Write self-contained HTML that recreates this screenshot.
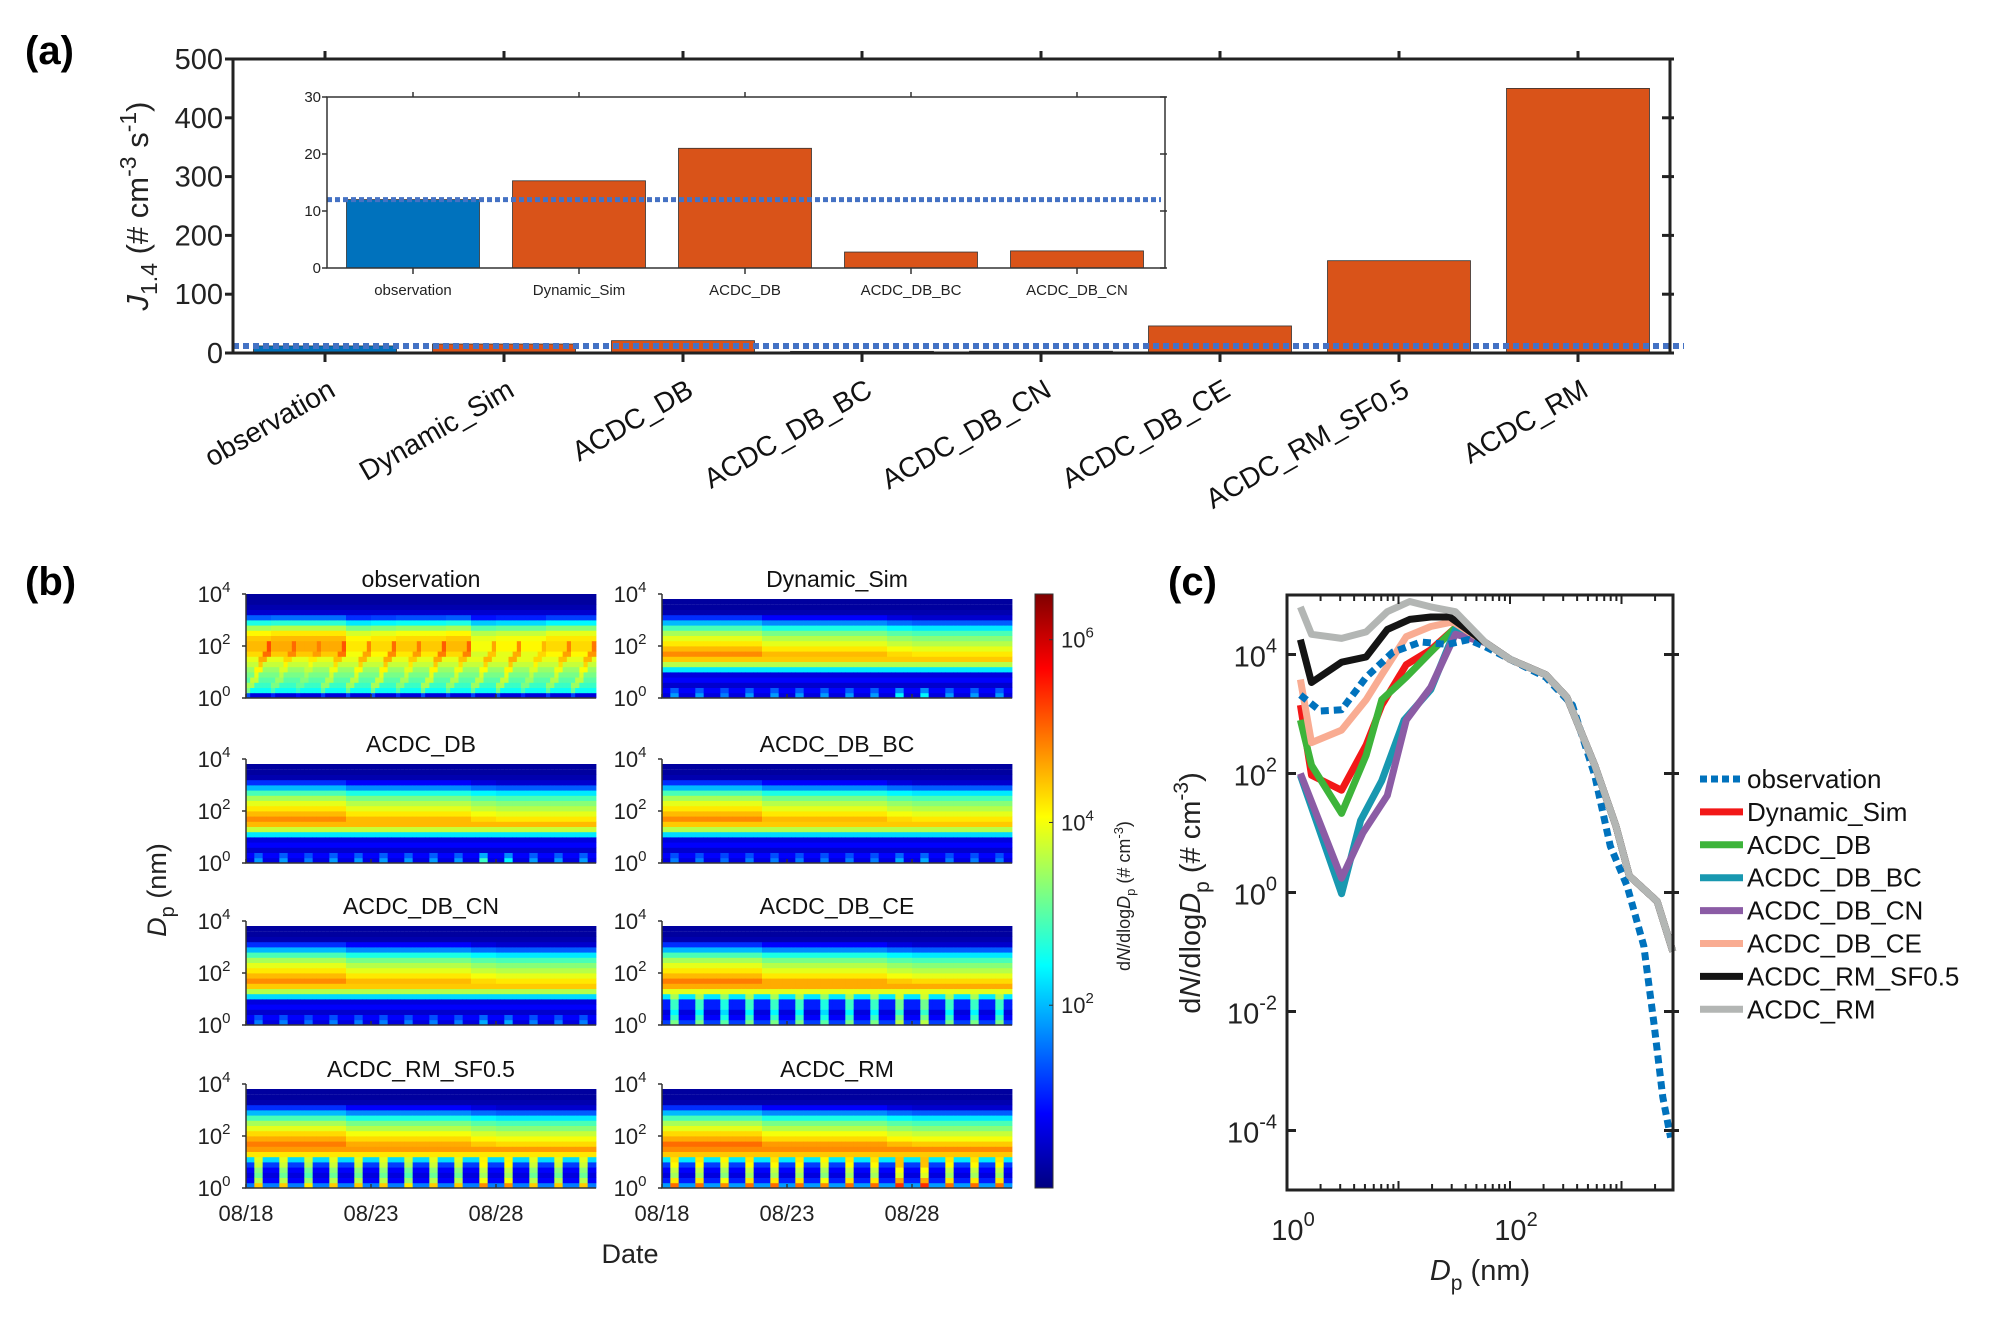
<!DOCTYPE html>
<html><head><meta charset="utf-8">
<style>
html,body{margin:0;padding:0;background:#fff;}
svg{display:block;font-family:"Liberation Sans",Arial,sans-serif;}
</style></head>
<body>
<svg id="fig" width="1997" height="1335" viewBox="0 0 1997 1335" xmlns="http://www.w3.org/2000/svg">
<defs>
<linearGradient id="jetgrad" x1="0" y1="1" x2="0" y2="0">
<stop offset="0" stop-color="#000080"/><stop offset="0.125" stop-color="#0000ff"/><stop offset="0.375" stop-color="#00ffff"/><stop offset="0.625" stop-color="#ffff00"/><stop offset="0.875" stop-color="#ff0000"/><stop offset="1" stop-color="#800000"/>
</linearGradient>
</defs>
<text x="25" y="64" font-size="40" font-weight="bold">(a)</text>
<text x="25" y="595" font-size="40" font-weight="bold">(b)</text>
<text x="1168" y="595" font-size="40" font-weight="bold">(c)</text>
<g id="pa"></g>
<g id="pb"></g>
<g id="pc"></g>
</svg>
<script>
// ===== Panel (a) data =====
const catsA = ['observation','Dynamic_Sim','ACDC_DB','ACDC_DB_BC','ACDC_DB_CN','ACDC_DB_CE','ACDC_RM_SF0.5','ACDC_RM'];
const valsA = [12, 15.3, 21, 2.8, 3.0, 46, 157, 450];
const ticksA = [0,100,200,300,400,500];
const obsLineA = 12;
const catsInset = ['observation','Dynamic_Sim','ACDC_DB','ACDC_DB_BC','ACDC_DB_CN'];
const valsInset = [12, 15.3, 21, 2.8, 3.0];
const ticksInset = [0,10,20,30];

// ===== Panel (b) data =====
const binsB = 20; // 0.2-decade bins from 10^0 to 10^4
const dateTicks = ['08/18','08/23','08/28'];
const dateTickDay = [0,5,10];
const panelTitles = ['observation','Dynamic_Sim','ACDC_DB','ACDC_DB_BC','ACDC_DB_CN','ACDC_DB_CE','ACDC_RM_SF0.5','ACDC_RM'];
const profObs = [0.6,2.5,2.8,3.0,3.2,3.4,3.7,3.9,4.1,4.3,4.3,4.2,3.9,3.3,2.4,1.2,0.5,0.3,0.2,0.2];
const profDyn = [0.6,0.8,0.5,0.8,0.6,2.3,3.6,4.4,4.5,4.2,3.9,3.6,3.2,2.6,1.7,0.8,0.3,0.2,0.2,0.2];
const profDB  = [0.6,0.8,0.5,0.8,0.6,2.3,3.7,4.5,4.5,4.2,3.9,3.6,3.2,2.6,1.7,0.8,0.3,0.2,0.2,0.2];
const profBC  = [0.6,0.8,0.5,0.8,0.6,2.2,3.6,4.4,4.5,4.2,3.9,3.6,3.2,2.6,1.7,0.8,0.3,0.2,0.2,0.2];
const profCN  = [0.6,0.8,0.5,0.8,0.6,2.2,3.6,4.4,4.5,4.2,3.9,3.6,3.2,2.6,1.7,0.8,0.3,0.2,0.2,0.2];
const profCE  = [1.2,0.8,0.6,1.0,1.0,2.3,3.9,4.6,4.6,4.2,3.9,3.6,3.2,2.6,1.7,0.8,0.3,0.2,0.2,0.2];
const profSF  = [1.6,0.8,0.6,0.8,1.2,2.2,4.2,4.7,4.6,4.3,4.0,3.6,3.2,2.6,1.7,0.8,0.3,0.2,0.2,0.2];
const profRM  = [1.8,1.0,0.6,0.8,1.2,2.3,4.4,4.8,4.7,4.3,4.0,3.6,3.2,2.6,1.7,0.8,0.3,0.2,0.2,0.2];
const shiftObs   = [0.2,0.3,0.3,0.3,-0.1,0.0,0.1,0.1,0.2,-0.3,-0.2,-0.2,0.0,0.0];
const shiftModel = [0.3,0.3,0.3,0.3,0.0,0.0,0.0,0.0,0.0,-0.2,-0.3,-0.3,-0.3,-0.3];
const burstObs = [1.0,0.6,0.4,0.8,0.9,1.0,0.7,1.0,0.8,0.9,1.0,0.6,0.8,0.9];
const burstDyn = [1.2,1.2,1.0,1.2,1.2,1.2,1.2,1.2,1.2,1.8,1.8,1.2,1.2,1.2];
const burstDB  = [1.2,1.2,1.0,1.2,1.2,1.2,1.2,1.2,1.2,2.2,1.8,1.2,1.2,1.2];
const burstBC  = [1.0,1.0,0.9,1.0,1.0,1.0,1.0,1.0,1.0,1.3,1.3,1.0,1.0,1.0];
const burstCN  = [1.0,1.0,0.9,1.0,1.0,1.0,1.0,1.0,1.0,1.3,1.3,1.0,1.0,1.0];
const burstCE  = [2.0,2.0,1.8,2.0,2.0,2.0,1.8,2.0,2.0,2.4,2.4,2.0,2.0,2.0];
const burstSF  = [2.8,2.8,2.6,2.8,2.8,2.8,2.6,2.8,2.8,3.2,3.2,2.8,2.8,2.8];
const burstRM  = [3.2,3.2,3.0,3.2,3.2,3.2,3.0,3.2,3.2,3.6,3.6,3.2,3.2,3.2];
const burstScaleWeak = [1.0,0.5,0.0,0.0,0.0,0.0];
const burstScaleStrong = [1.0,1.0,0.9,0.9,0.9,0.6];
const cbTicks = [2,4,6];

// ===== Panel (c) data (log10 values) =====
const tailX = [1.78,2.0,2.32,2.51,2.76,2.95,3.07,3.32,3.46];
const tailY = [4.2,3.92,3.66,3.28,2.14,1.12,0.28,-0.15,-0.99];
const obsX = [0.12,0.3,0.49,0.71,0.95,1.2,1.44,1.63,1.78,2.0,2.32,2.56,2.76,2.9,3.05,3.2,3.29,3.37,3.44];
const obsY = [3.32,3.05,3.07,3.62,4.04,4.21,4.17,4.25,4.13,3.92,3.62,3.15,1.97,0.78,0.11,-0.9,-2.18,-3.44,-4.12];
const dynX = [0.12,0.22,0.49,0.71,0.85,1.07,1.29,1.51];
const dynY = [3.15,1.97,1.72,2.48,3.15,3.83,4.08,4.45];
const dbX = [0.12,0.22,0.49,0.71,0.85,1.07,1.29,1.51];
const dbY = [2.9,2.14,1.33,2.31,3.24,3.62,4.04,4.45];
const bcX = [0.12,0.49,0.66,0.85,1.05,1.29,1.51];
const bcY = [1.97,-0.02,1.21,1.88,2.9,3.41,4.42];
const cnX = [0.12,0.49,0.68,0.9,1.07,1.29,1.51];
const cnY = [2.0,0.24,1.0,1.63,2.9,3.45,4.34];
const ceX = [0.12,0.22,0.49,0.71,0.85,1.07,1.29,1.49];
const ceY = [3.58,2.52,2.73,3.24,3.66,4.3,4.47,4.55];
const sfX = [0.12,0.22,0.49,0.71,0.9,1.1,1.29,1.46];
const sfY = [4.25,3.53,3.87,3.96,4.42,4.59,4.63,4.63];
const rmX = [0.12,0.22,0.49,0.71,0.9,1.1,1.29,1.51];
const rmY = [4.8,4.34,4.27,4.38,4.72,4.89,4.8,4.72];
const legendNames = ['observation','Dynamic_Sim','ACDC_DB','ACDC_DB_BC','ACDC_DB_CN','ACDC_DB_CE','ACDC_RM_SF0.5','ACDC_RM'];
const yTicksC = [-4,-2,0,2,4];
const xTicksC = [0,2];

const NS='http://www.w3.org/2000/svg';
function mk(tag, attrs, parent){const e=document.createElementNS(NS,tag);for(const k in attrs)e.setAttribute(k,attrs[k]);parent.appendChild(e);return e;}

// ===== Panel (a) =====
(function(){
const g=document.getElementById('pa');
const L=233,R=1670,T=59,B=353, step=179, x0=325;
const y=v=>B-(v/500)*(B-T);
const xc=i=>x0+i*step;
const bw=143;
catsA.forEach((c,i)=>{
 const r=mk('rect',{x:xc(i)-bw/2,y:y(valsA[i]),width:bw,height:B-y(valsA[i]),fill:i==0?'#0072BD':'#D95319',stroke:'#333','stroke-width':0.8},g);
 
 
});
const obl=mk('line',{x1:L,x2:R+14,y1:y(obsLineA),y2:y(obsLineA),stroke:'#4472C4','stroke-width':6,'stroke-dasharray':'6,4'},g);


const ax=mk('path',{d:`M${L},${T}H${R}V${B}H${L}Z`,fill:'none',stroke:'#222','stroke-width':3},g);


ticksA.forEach(t=>{
 mk('line',{x1:L-8,x2:L,y1:y(t),y2:y(t),stroke:'#222','stroke-width':3},g);
 mk('line',{x1:R-8,x2:R+4,y1:y(t),y2:y(t),stroke:'#222','stroke-width':3},g);
 const tx=mk('text',{x:L-10,y:y(t)+10,'font-size':29,'text-anchor':'end',fill:'#222'},g);
 tx.textContent=t;
 
 
});
catsA.forEach((c,i)=>{
 mk('line',{x1:xc(i),x2:xc(i),y1:T-8,y2:T,stroke:'#222','stroke-width':3},g);
 mk('line',{x1:xc(i),x2:xc(i),y1:B,y2:B+9,stroke:'#222','stroke-width':3},g);
 const tx=mk('text',{'font-size':28,'text-anchor':'end',fill:'#111',transform:`translate(${xc(i)+12},${395}) rotate(-30)`},g);
 tx.textContent=c;
 
 
});
const yl=mk('text',{'font-size':31,'text-anchor':'middle',fill:'#222',transform:'translate(148,206) rotate(-90)'},g);
yl.innerHTML='<tspan font-style="italic">J</tspan><tspan font-size="23" dy="9">1.4</tspan><tspan dy="-9"> (# cm</tspan><tspan font-size="23" dy="-12">-3</tspan><tspan dy="12"> s</tspan><tspan font-size="23" dy="-12">-1</tspan><tspan dy="12">)</tspan>';


// inset
const iL=327,iR=1165,iT=97,iB=268, ist=166, ix0=413, ibw=133;
const iy=v=>iB-(v/30)*(iB-iT);
mk('rect',{x:iL,y:iT,width:iR-iL,height:iB-iT,fill:'#fff'},g);
catsInset.forEach((c,i)=>{
 const r=mk('rect',{x:ix0+i*ist-ibw/2,y:iy(valsInset[i]),width:ibw,height:iB-iy(valsInset[i]),fill:i==0?'#0072BD':'#D95319',stroke:'#333','stroke-width':0.8},g);
 
 
 mk('line',{x1:ix0+i*ist,x2:ix0+i*ist,y1:iT-5,y2:iT,stroke:'#333','stroke-width':1.5},g);
 mk('line',{x1:ix0+i*ist,x2:ix0+i*ist,y1:iB,y2:iB+6,stroke:'#333','stroke-width':1.5},g);
 const tx=mk('text',{x:ix0+i*ist,y:295,'font-size':15,'text-anchor':'middle',fill:'#222'},g);
 tx.textContent=c;
 
 
});
const il=mk('line',{x1:iL,x2:iR-4,y1:iy(obsLineA),y2:iy(obsLineA),stroke:'#4472C4','stroke-width':5,'stroke-dasharray':'5,3'},g);


const iax=mk('path',{d:`M${iL},${iT}H${iR}V${iB}H${iL}Z`,fill:'none',stroke:'#333','stroke-width':1.5},g);


ticksInset.forEach(t=>{
 mk('line',{x1:iL-5,x2:iL,y1:iy(t),y2:iy(t),stroke:'#333','stroke-width':1.5},g);
 mk('line',{x1:iR-5,x2:iR+2,y1:iy(t),y2:iy(t),stroke:'#333','stroke-width':1.5},g);
 const tx=mk('text',{x:iL-6,y:iy(t)+5,'font-size':15,'text-anchor':'end',fill:'#222'},g);
 tx.textContent=t;
 
 
});
})();

// ===== Panel (b) =====
(function(){
const g=document.getElementById('pb');
const profs=[profObs,profDyn,profDB,profBC,profCN,profCE,profSF,profRM];
const bursts=[burstObs,burstDyn,burstDB,burstBC,burstCN,burstCE,burstSF,burstRM];
const cols=[[246,596],[662,1012]];
const rows=[594,759,921,1084];
const H=104, nDays=14, per=6, vmax=6.5;
function jet(v){let t=Math.max(0,Math.min(1,v/vmax));const c=x=>Math.round(255*Math.max(0,Math.min(1,1.5-Math.abs(x))));return `rgb(${c(4*t-3)},${c(4*t-2)},${c(4*t-1)})`;}
panelTitles.forEach((title,p)=>{
 const [x0,x1]=cols[p%2]; const yT=rows[Math.floor(p/2)], yB=yT+H;
 const isObs=p===0;
 const topBin = isObs?20:19;
 const bh=H/20, cw=(x1-x0)/(nDays*per);
 const prof=profs[p], bst=bursts[p], sh=isObs?shiftObs:shiftModel;
 const bsc = p>=5?burstScaleStrong:burstScaleWeak;
 for(let d=0;d<nDays;d++)for(let s=0;s<per;s++)for(let b=0;b<topBin;b++){
  let v=prof[b];
  if(b>=8&&b<=15)v+=sh[d];
  if(isObs){
   const pk=1+s*1.6;
   if(Math.abs(b-pk)<1.3)v+=0.7*bst[d];
  }else{
   if(b<=5&&(s===2||s===3))v+=bst[d]*bsc[b];
  }
  const yy=yB-(b+1)*bh; const xx=x0+(d*per+s)*cw;
  const r=mk('rect',{x:xx.toFixed(2),y:(b===topBin-1&&!isObs?yT+5:yy).toFixed(2),width:(cw+0.4).toFixed(2),height:((b===topBin-1&&!isObs)?yy+bh-yT-5:bh+0.4).toFixed(2),fill:jet(v)},g);
  
  
 }
 const ax=mk('path',{d:`M${x0},${yT}V${yB}H${x1}`,fill:'none',stroke:'#333','stroke-width':1.5},g);
 
 
 [0,2,4].forEach(e=>{
  const yy=yB-e/4*H;
  mk('line',{x1:x0-4,x2:x0,y1:yy,y2:yy,stroke:'#333','stroke-width':1.5},g);
  const tx=mk('text',{x:x0-32,y:yy+8,'font-size':22,'text-anchor':'middle',fill:'#222'},g);
  tx.innerHTML='10<tspan font-size="15" dy="-10">'+e+'</tspan>';
  
  
 });
 dateTickDay.forEach((dd,k)=>{
  const xx=x0+dd*(x1-x0)/nDays;
  mk('line',{x1:xx,x2:xx,y1:yB,y2:yB-4,stroke:'#333','stroke-width':1.5},g);
  if(p>=6){const tx=mk('text',{x:xx,y:1221,'font-size':22,'text-anchor':'middle',fill:'#222'},g);
   tx.textContent=dateTicks[k];
   
   }
 });
 const tt=mk('text',{x:(x0+x1)/2,y:yT-7,'font-size':23,'text-anchor':'middle',fill:'#111'},g);
 tt.textContent=title;
 
 
});
const dl=mk('text',{x:630,y:1263,'font-size':27,'text-anchor':'middle',fill:'#222'},g);
dl.textContent='Date';


const yl=mk('text',{'font-size':27,'text-anchor':'middle',fill:'#222',transform:'translate(166,890) rotate(-90)'},g);
yl.innerHTML='<tspan font-style="italic">D</tspan><tspan font-size="20" dy="8">p</tspan><tspan dy="-8"> (nm)</tspan>';


// colorbar
const cbT=594,cbB=1188,cbL=1035,cbW=18;
const cb=mk('rect',{x:cbL,y:cbT,width:cbW,height:cbB-cbT,fill:'url(#jetgrad)',stroke:'#333','stroke-width':1},g);


cbTicks.forEach(t=>{
 const yy=cbB-t/6.5*(cbB-cbT);
 mk('line',{x1:cbL+cbW-4,x2:cbL+cbW,y1:yy,y2:yy,stroke:'#333'},g);
 const tx=mk('text',{x:cbL+cbW+8,y:yy+8,'font-size':22,fill:'#222'},g);
 tx.innerHTML='10<tspan font-size="15" dy="-10">'+t+'</tspan>';
 
 
});
const ct=mk('text',{'font-size':18,'text-anchor':'middle',fill:'#222',transform:'translate(1130,896) rotate(-90)'},g);
ct.innerHTML='d<tspan font-style="italic">N</tspan>/dlog<tspan font-style="italic">D</tspan><tspan font-size="13" dy="5">p</tspan><tspan dy="-5"> (# cm</tspan><tspan font-size="13" dy="-7">-3</tspan><tspan dy="7">)</tspan>';


})();

// ===== Panel (c) =====
(function(){
const g=document.getElementById('pc');
const L=1287,R=1673,T=595,B=1190;
const xs=v=>L+v*111.5;
const ys=v=>T+(5-v)*(B-T)/10;
const cp=mk('clipPath',{id:'cclip'},g); mk('rect',{x:L,y:T,width:R-L+6,height:B-T},cp);
const series=[
 {n:'observation',x:obsX,y:obsY,c:'#0072BD',dash:'8,5'},
 {n:'Dynamic_Sim',x:dynX.concat(tailX),y:dynY.concat(tailY),c:'#F21818'},
 {n:'ACDC_DB',x:dbX.concat(tailX),y:dbY.concat(tailY),c:'#3DB43A'},
 {n:'ACDC_DB_BC',x:bcX.concat(tailX),y:bcY.concat(tailY),c:'#1898B0'},
 {n:'ACDC_DB_CN',x:cnX.concat(tailX),y:cnY.concat(tailY),c:'#8B5CA5'},
 {n:'ACDC_DB_CE',x:ceX.concat(tailX),y:ceY.concat(tailY),c:'#F9AC92'},
 {n:'ACDC_RM_SF0.5',x:sfX.concat(tailX),y:sfY.concat(tailY),c:'#141414'},
 {n:'ACDC_RM',x:rmX.concat(tailX),y:rmY.concat(tailY),c:'#B3B6B4'}
];
const draw=[1,2,3,4,5,0,6,7];
draw.forEach(i=>{
 const s=series[i];
 const d=s.x.map((v,k)=>(k?'L':'M')+xs(v).toFixed(1)+','+ys(s.y[k]).toFixed(1)).join('');
 const p=mk('path',{d:d,fill:'none',stroke:s.c,'stroke-width':7,'stroke-linejoin':'round','clip-path':'url(#cclip)'},g);
 if(s.dash)p.setAttribute('stroke-dasharray',s.dash);
 
 
});
const ax=mk('path',{d:`M${L},${T}H${R}V${B}H${L}Z`,fill:'none',stroke:'#222','stroke-width':3},g);


for(let dec=0;dec<4;dec++)for(let m=1;m<10;m++){
 const lv=dec+Math.log10(m); const xx=xs(lv); if(xx>R)continue;
 const len=m===1?9:6;
 mk('line',{x1:xx,x2:xx,y1:B,y2:B-len,stroke:'#222','stroke-width':2},g);
 mk('line',{x1:xx,x2:xx,y1:T,y2:T+len,stroke:'#222','stroke-width':2},g);
}
yTicksC.forEach(t=>{
 mk('line',{x1:L,x2:L+9,y1:ys(t),y2:ys(t),stroke:'#222','stroke-width':3},g);
 mk('line',{x1:R-9,x2:R+6,y1:ys(t),y2:ys(t),stroke:'#222','stroke-width':3},g);
 const tx=mk('text',{x:L-10,y:ys(t)+12,'font-size':29,'text-anchor':'end',fill:'#222'},g);
 tx.innerHTML='10<tspan font-size="20" dy="-14">'+t+'</tspan>';
 
 
});
xTicksC.forEach(t=>{
 const tx=mk('text',{x:xs(t)+6,y:1240,'font-size':29,'text-anchor':'middle',fill:'#222'},g);
 tx.innerHTML='10<tspan font-size="20" dy="-14">'+t+'</tspan>';
 
 
});
const xl=mk('text',{x:1480,y:1280,'font-size':29,'text-anchor':'middle',fill:'#222'},g);
xl.innerHTML='<tspan font-style="italic">D</tspan><tspan font-size="21" dy="10">p</tspan><tspan dy="-10"> (nm)</tspan>';


const yl=mk('text',{'font-size':29,'text-anchor':'middle',fill:'#222',transform:'translate(1200,893) rotate(-90)'},g);
yl.innerHTML='d<tspan font-style="italic">N</tspan>/dlog<tspan font-style="italic">D</tspan><tspan font-size="21" dy="9">p</tspan><tspan dy="-9"> (# cm</tspan><tspan font-size="21" dy="-12">-3</tspan><tspan dy="12">)</tspan>';


legendNames.forEach((n,i)=>{
 const s=series[i]; const yy=779+i*32.9;
 const ln=mk('line',{x1:1700,x2:1743,y1:yy,y2:yy,stroke:s.c,'stroke-width':7},g);
 if(s.dash)ln.setAttribute('stroke-dasharray','7,4');
 
 
 const tx=mk('text',{x:1747,y:yy+9,'font-size':26,fill:'#111'},g);
 tx.textContent=n;
 
 
});
})();
</script>
</body></html>
